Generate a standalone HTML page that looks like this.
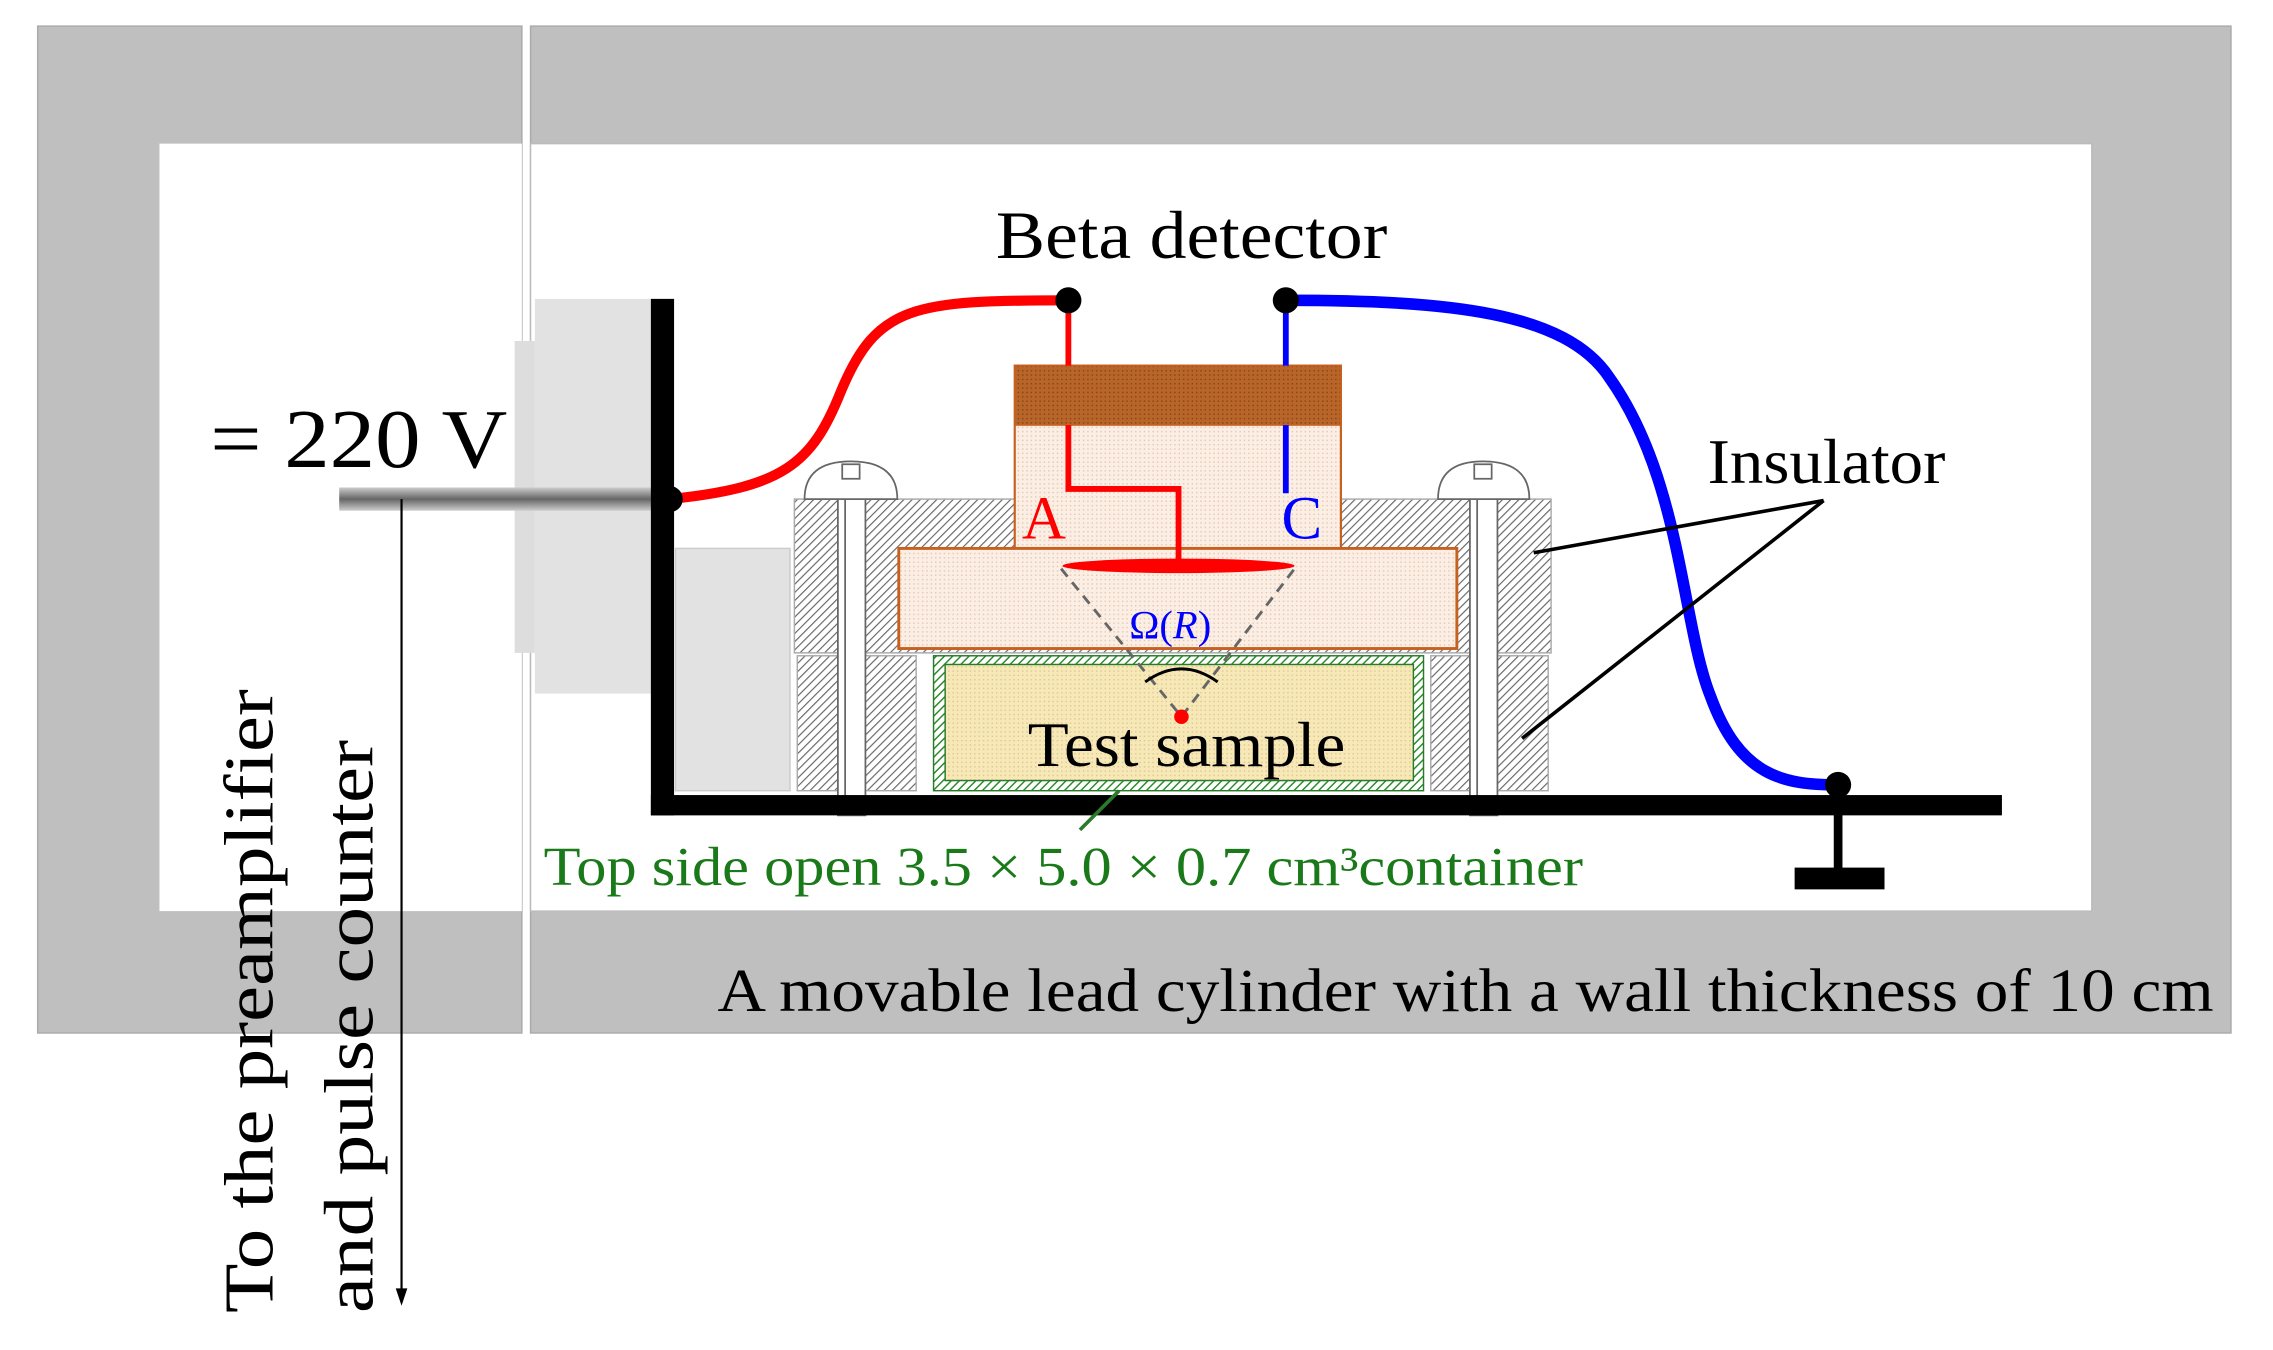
<!DOCTYPE html>
<html><head><meta charset="utf-8"><style>html,body{margin:0;padding:0;background:#fff}svg{display:block}</style></head>
<body>
<svg width="2273" height="1350" viewBox="0 0 1568 930.5" preserveAspectRatio="none" xmlns="http://www.w3.org/2000/svg" font-family="Liberation Serif, serif">
<defs>
<pattern id="hatch" width="4" height="4" patternUnits="userSpaceOnUse" patternTransform="rotate(45)"><rect width="4" height="4" fill="#fff"/><line x1="0" y1="0" x2="0" y2="4" stroke="#666" stroke-width="1.6"/></pattern>
<pattern id="ghatch" width="4" height="4" patternUnits="userSpaceOnUse" patternTransform="rotate(45)"><rect width="4" height="4" fill="#fff"/><line x1="0" y1="0" x2="0" y2="4" stroke="#2a8a2a" stroke-width="2"/></pattern>
<pattern id="dots" width="3" height="3" patternUnits="userSpaceOnUse"><rect width="3" height="3" fill="#fbeee4"/><rect width="1" height="1" fill="#e8c8b0"/></pattern>
<pattern id="ydots" width="3" height="3" patternUnits="userSpaceOnUse"><rect width="3" height="3" fill="#f7e8b8"/><rect width="1" height="1" fill="#e0c890"/></pattern>
<pattern id="bdots" width="3" height="3" patternUnits="userSpaceOnUse"><rect width="3" height="3" fill="#b8652a"/><rect width="1" height="1" fill="#8a4512"/></pattern>
<linearGradient id="rod" x1="0" y1="0" x2="0" y2="1"><stop offset="0" stop-color="#ccc"/><stop offset="0.5" stop-color="#666"/><stop offset="1" stop-color="#ccc"/></linearGradient>
</defs>
<rect x="26" y="18" width="334" height="694" fill="#bfbfbf" stroke="#aaa"/>
<rect x="366" y="18" width="1173" height="694" fill="#bfbfbf" stroke="#aaa"/>
<rect x="110" y="99" width="250" height="529" fill="#fff"/>
<rect x="366" y="99" width="1077" height="529" fill="#fff" stroke="#bbb"/>
<line x1="363" y1="18" x2="363" y2="712" stroke="#fff" stroke-width="3"/>
<rect x="355" y="235" width="14" height="215" fill="#ddd"/>
<rect x="369" y="206" width="80" height="272" fill="#e2e2e2"/>
<rect x="466" y="378" width="79" height="167" fill="#e2e2e2" stroke="#ccc"/>
<rect x="234" y="336" width="228" height="16" fill="url(#rod)"/>
<rect x="548" y="344" width="522" height="106" fill="url(#hatch)" stroke="#aaa"/>
<rect x="550" y="452" width="82" height="93" fill="url(#hatch)" stroke="#aaa"/>
<rect x="987" y="452" width="81" height="93" fill="url(#hatch)" stroke="#aaa"/>
<rect x="700" y="252" width="225" height="126" fill="url(#dots)" stroke="#c86020" stroke-width="1.5"/>
<rect x="700" y="252" width="225" height="41" fill="url(#bdots)" stroke="#c86020"/>
<rect x="620" y="378" width="385" height="69" fill="url(#dots)" stroke="#c86020" stroke-width="2"/>
<rect x="644" y="452" width="338" height="93" fill="url(#ghatch)" stroke="#2a7a2a"/>
<rect x="652" y="458" width="323" height="80" fill="url(#ydots)" stroke="#2a7a2a"/>
<g fill="#fff" stroke="#666" stroke-width="1.2">
<rect x="578" y="338" width="19" height="224"/><line x1="583" y1="340" x2="583" y2="560"/>
<path d="M555 344 Q555 318 587 318 Q619 318 619 344 Z"/><rect x="581" y="320" width="12" height="10"/>
<rect x="1014" y="338" width="19" height="224"/><line x1="1019" y1="340" x2="1019" y2="560"/>
<path d="M992 344 Q992 318 1023 318 Q1055 318 1055 344 Z"/><rect x="1017" y="320" width="12" height="10"/>
</g>
<rect x="449" y="206" width="16" height="356" fill="#000"/>
<rect x="449" y="548" width="932" height="14" fill="#000"/>
<rect x="1265" y="548" width="6" height="52" fill="#000"/>
<rect x="1238" y="598" width="62" height="15" fill="#000"/>
<path d="M462 344 C540 336 560 320 580 270 C605 210 630 207 737 207" fill="none" stroke="#f00" stroke-width="7"/>
<path d="M737 207 V252 M737 293 V337 H813 V388" fill="none" stroke="#f00" stroke-width="4"/>
<ellipse cx="813" cy="390" rx="80" ry="5" fill="#f00"/>
<path d="M887 207 C1000 207 1080 215 1110 260 C1160 330 1160 430 1180 480 C1200 535 1230 541 1268 541" fill="none" stroke="#00f" stroke-width="8"/>
<path d="M887 207 V252 M887 293 V340" fill="none" stroke="#00f" stroke-width="4"/>
<circle cx="462" cy="344" r="9" fill="#000"/><circle cx="737" cy="207" r="9" fill="#000"/><circle cx="887" cy="207" r="9" fill="#000"/><circle cx="1268" cy="541" r="9" fill="#000"/>
<path d="M732 392 L815 494 L893 392" fill="none" stroke="#666" stroke-width="2" stroke-dasharray="7,5"/>
<path d="M790 470 Q815 452 840 470" fill="none" stroke="#000" stroke-width="2"/>
<circle cx="815" cy="494" r="5" fill="#f00"/>
<g stroke="#000" stroke-width="2.5" fill="none"><line x1="1258" y1="345" x2="1058" y2="381"/><line x1="1258" y1="345" x2="1050" y2="509"/></g>
<line x1="745" y1="572" x2="772" y2="545" stroke="#2a7a2a" stroke-width="2.5"/>
<line x1="277" y1="344" x2="277" y2="895" stroke="#000" stroke-width="1.5"/>
<path d="M273 888 L277 900 L281 888 Z" fill="#000"/>
<text x="145" y="322" font-size="58" textLength="205" lengthAdjust="spacingAndGlyphs">= 220 V</text>
<text x="687" y="178" font-size="47" textLength="270" lengthAdjust="spacingAndGlyphs">Beta detector</text>
<text x="1178" y="333" font-size="44" textLength="164" lengthAdjust="spacingAndGlyphs">Insulator</text>
<text x="705" y="371" font-size="42" fill="#f00">A</text>
<text x="884" y="371" font-size="42" fill="#00f">C</text>
<text x="779" y="440" font-size="28" fill="#00f">Ω(<tspan font-style="italic">R</tspan>)</text>
<text x="709" y="528" font-size="44" textLength="219" lengthAdjust="spacingAndGlyphs">Test sample</text>
<text x="375" y="610" font-size="38" fill="#1a7a1a" textLength="717" lengthAdjust="spacingAndGlyphs">Top side open 3.5 × 5.0 × 0.7 cm³container</text>
<text x="495" y="697" font-size="42" textLength="1032" lengthAdjust="spacingAndGlyphs">A movable lead cylinder with a wall thickness of 10 cm</text>
<text transform="translate(188,905) rotate(-90)" font-size="48" textLength="430" lengthAdjust="spacingAndGlyphs">To the preamplifier</text>
<text transform="translate(257,905) rotate(-90)" font-size="48" textLength="395" lengthAdjust="spacingAndGlyphs">and pulse counter</text>
</svg>
</body></html>
